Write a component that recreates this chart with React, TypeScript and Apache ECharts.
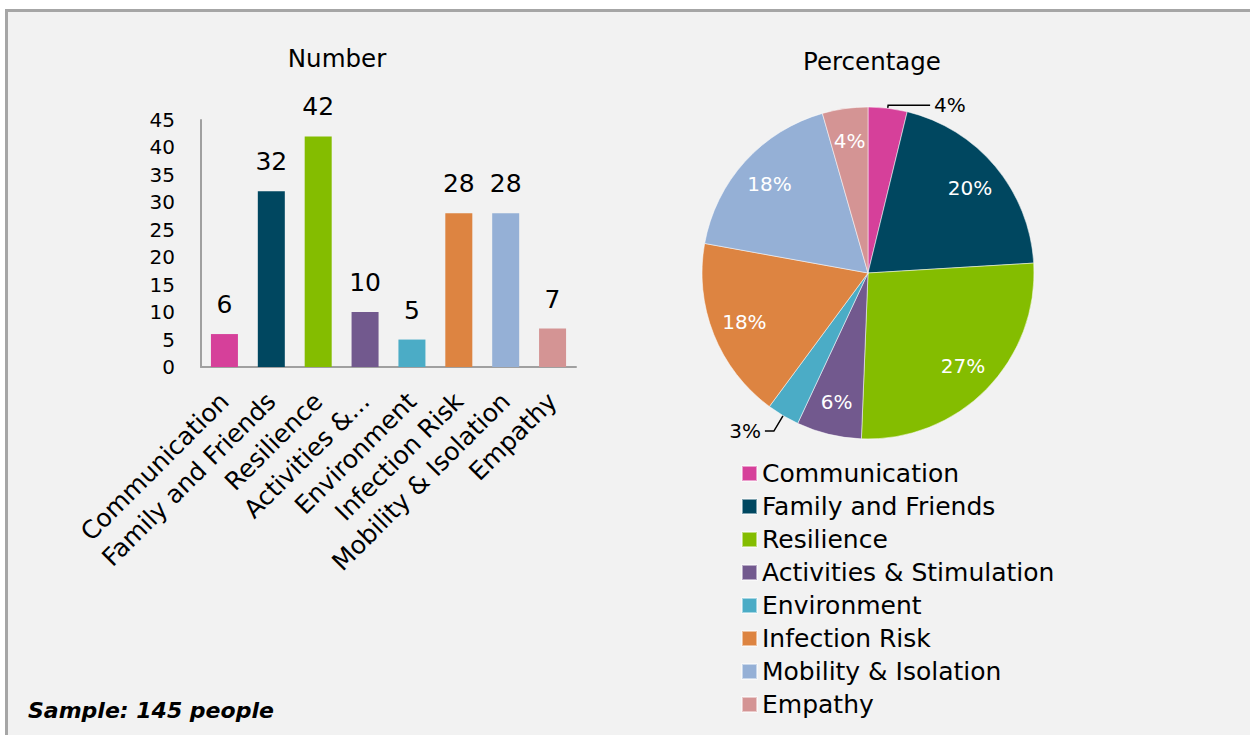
import React, { useEffect, useRef } from "react";
import * as echarts from "echarts";

const categories = [
  "Communication",
  "Family and Friends",
  "Resilience",
  "Activities & Stimulation",
  "Environment",
  "Infection Risk",
  "Mobility & Isolation",
  "Empathy",
];
const barTickLabels = [
  "Communication",
  "Family and Friends",
  "Resilience",
  "Activities &...",
  "Environment",
  "Infection Risk",
  "Mobility & Isolation",
  "Empathy",
];
const counts = [6, 32, 42, 10, 5, 28, 28, 7];
const colors = [
  "#d6409a",
  "#004760",
  "#84bd00",
  "#72598e",
  "#4bacc6",
  "#dd8441",
  "#95b0d6",
  "#d49494",
];
const outsideLabels = ["Communication", "Environment"];
const yTicks = { min: 0, max: 45, interval: 5 };

const FONT = "'DejaVu Sans', Verdana, sans-serif";

export default function App() {
  const ref = useRef<HTMLDivElement>(null);

  useEffect(() => {
    if (!ref.current) return;
    const chart = echarts.init(ref.current, null, { renderer: "svg" });
    const total = counts.reduce((a, b) => a + b, 0);
    const pct = (v: number) => Math.round((v / total) * 100) + "%";

    const pieData = categories.map((name, i) => {
      const outside = outsideLabels.includes(name);
      const item: any = {
        name,
        value: counts[i],
        itemStyle: { color: colors[i] },
        label: { show: outside },
      };
      if (name === "Communication") {
        item.labelLine = { show: true, length: 3, length2: 42 };
        item.label.padding = [0, 0, 14, 0];
      } else if (name === "Environment") {
        item.labelLine = { show: true, length: 18, length2: 9 };
      } else {
        item.labelLine = { show: false };
      }
      return item;
    });

    const pieLabelData = categories.map((name, i) => ({
      name,
      value: counts[i],
      label: { show: !outsideLabels.includes(name) },
    }));

    chart.setOption({
      animation: false,
      textStyle: { fontFamily: FONT },
      grid: {
        left: 201,
        top: 120,
        width: 375,
        height: 247,
        containLabel: false,
        outerBoundsMode: "none",
      },
      xAxis: {
        type: "category",
        data: categories,
        axisLine: { show: true, lineStyle: { color: "#a0a0a0", width: 2 } },
        axisTick: { show: false },
        axisLabel: {
          rotate: 45,
          interval: 0,
          margin: 30,
          fontSize: 25,
          color: "#000",
          fontFamily: FONT,
          formatter: (_v: string, idx: number) => barTickLabels[idx],
        },
      },
      yAxis: {
        type: "value",
        min: yTicks.min,
        max: yTicks.max,
        interval: yTicks.interval,
        axisLine: { show: true, lineStyle: { color: "#a0a0a0", width: 2 } },
        axisTick: { show: false },
        splitLine: { show: false },
        axisLabel: { fontSize: 20, color: "#000", margin: 26, fontFamily: FONT },
      },
      legend: {
        orient: "vertical",
        left: 736,
        top: 456,
        itemWidth: 15,
        itemHeight: 15,
        itemGap: 8,
        selectedMode: false,
        icon: "rect",
        textStyle: { fontSize: 25, color: "#000", fontFamily: FONT, lineHeight: 25 },
        data: categories.map((name, i) => ({ name, itemStyle: { color: colors[i] } })),
      },
      series: [
        {
          type: "bar",
          data: counts.map((v, i) => ({ value: v, itemStyle: { color: colors[i] } })),
          barWidth: 27,
          label: {
            show: true,
            position: "top",
            distance: 17,
            fontSize: 25,
            color: "#000",
            fontFamily: FONT,
          },
        },
        {
          type: "pie",
          name: "pct",
          center: [868, 273],
          radius: 166,
          startAngle: 90,
          clockwise: true,
          data: pieData,
          itemStyle: { borderColor: "rgba(255,255,255,0.5)", borderWidth: 1 },
          label: {
            position: "outside",
            formatter: (p: any) => pct(p.value),
            fontSize: 20,
            color: "#000",
            fontFamily: FONT,
            distanceToLabelLine: 4,
          },
          labelLine: { lineStyle: { color: "#000", width: 1.5 }, smooth: false },
          emphasis: { disabled: true },
        },
        {
          type: "pie",
          name: "pctLabels",
          center: [868, 273],
          radius: [100, 160],
          startAngle: 90,
          clockwise: true,
          silent: true,
          legendHoverLink: false,
          data: pieLabelData,
          itemStyle: { color: "rgba(0,0,0,0)" },
          label: {
            position: "inside",
            formatter: (p: any) => pct(p.value),
            fontSize: 20,
            color: "#fff",
            fontFamily: FONT,
          },
          labelLine: { show: false },
          emphasis: { disabled: true },
        },
      ],
      graphic: [
        {
          type: "text",
          x: 337,
          y: 58,
          style: {
            text: "Number",
            fontSize: 24.5,
            fontFamily: FONT,
            fill: "#000",
            textAlign: "center",
            textVerticalAlign: "middle",
          },
        },
        {
          type: "text",
          x: 872,
          y: 61,
          style: {
            text: "Percentage",
            fontSize: 24.5,
            fontFamily: FONT,
            fill: "#000",
            textAlign: "center",
            textVerticalAlign: "middle",
          },
        },
        {
          type: "text",
          x: 28,
          y: 710,
          style: {
            text: "Sample: 145 people",
            fontSize: 22,
            fontWeight: "bold",
            fontStyle: "italic",
            fontFamily: FONT,
            fill: "#000",
            textAlign: "left",
            textVerticalAlign: "middle",
          },
        },
      ],
    });
    return () => chart.dispose();
  }, []);

  return (
    <div
      style={{
        position: "fixed",
        left: 0,
        top: 0,
        width: 1250,
        height: 735,
        background: "#fff",
        overflow: "hidden",
      }}
    >
      <div
        style={{
          position: "absolute",
          left: 5,
          top: 9,
          width: 1245,
          height: 726,
          background: "#f2f2f2",
          borderTop: "3px solid #a6a6a6",
          borderLeft: "3px solid #a6a6a6",
          boxSizing: "border-box",
        }}
      />
      <div
        ref={ref}
        style={{ position: "absolute", left: 0, top: 0, width: 1250, height: 735 }}
      />
    </div>
  );
}
